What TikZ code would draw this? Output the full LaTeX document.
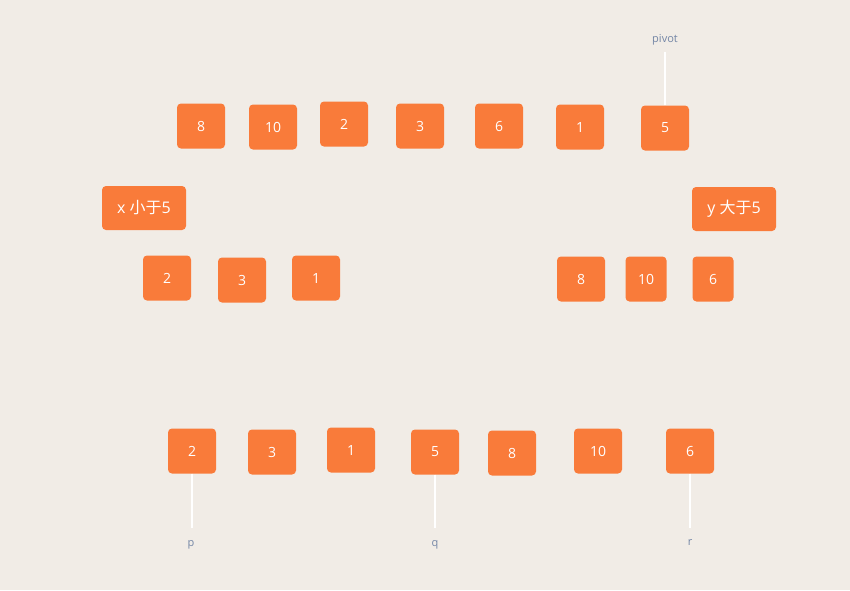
\documentclass[tikz,border=0pt]{standalone}
\usepackage{fontspec}
\setmainfont{Open Sans}
\newfontfamily\cjk{Noto Sans CJK SC}
\definecolor{bg}{HTML}{F1ECE6}
\definecolor{boxorange}{HTML}{F97B3A}
\definecolor{labelgray}{HTML}{7486A6}
\tikzset{
	numbox/.style={fill=boxorange, rounded corners=4pt, minimum width=48pt, minimum height=45pt, text=white, font=\fontsize{14}{16}\selectfont, inner sep=0pt},
	slimbox/.style={numbox, minimum width=41pt},
	widebox/.style={numbox, minimum width=84pt, minimum height=44pt, font=\fontsize{16}{18}\selectfont},
	tag/.style={text=labelgray, font=\fontsize{11}{13}\selectfont, inner sep=0pt},
	marker/.style={draw=white, line width=2pt}
}
\begin{document}
\begin{tikzpicture}[x=1pt, y=-1pt]
	\fill[bg] (0,0) rectangle (850,590);
	\useasboundingbox (0,0) rectangle (850,590);

	% input array
	\node(t1) [numbox] at (201,126) {8};
	\node(t2) [numbox] at (273,127) {10};
	\node(t3) [numbox] at (344,124) {2};
	\node(t4) [numbox] at (420,126) {3};
	\node(t5) [numbox] at (499,126) {6};
	\node(t6) [numbox] at (580,127) {1};
	\node(t7) [numbox] at (665,128) {5};
	\node(pivot) [tag] at (665,40) {pivot};
	\coordinate(pivote) at (665,52);
	\draw[marker] (t7.north) -- (pivote);

	% partitions
	\node(less) [widebox] at (144,208) {x {\cjk 小于}5};
	\node(more) [widebox] at (734,209) {y {\cjk 大于}5};
	\node(l1) [numbox] at (167,278) {2};
	\node(l2) [numbox] at (242,280) {3};
	\node(l3) [numbox] at (316,278) {1};
	\node(m1) [numbox] at (581,279) {8};
	\node(m2) [slimbox] at (646,279) {10};
	\node(m3) [slimbox] at (713,279) {6};

	% result
	\node(b1) [numbox] at (192,451) {2};
	\node(b2) [numbox] at (272,452) {3};
	\node(b3) [numbox] at (351,450) {1};
	\node(b4) [numbox] at (435,452) {5};
	\node(b5) [numbox] at (512,453) {8};
	\node(b6) [numbox] at (598,451) {10};
	\node(b7) [numbox] at (690,451) {6};
	\node(p) [tag] at (191,545) {p};
	\node(q) [tag] at (435,545) {q};
	\node(r) [tag] at (690,542) {r};
	\coordinate(pe) at (192,528);
	\coordinate(qe) at (435,528);
	\coordinate(re) at (690,528);
	\draw[marker] (b1.south) -- (pe);
	\draw[marker] (b4.south) -- (qe);
	\draw[marker] (b7.south) -- (re);
\end{tikzpicture}
\end{document}
